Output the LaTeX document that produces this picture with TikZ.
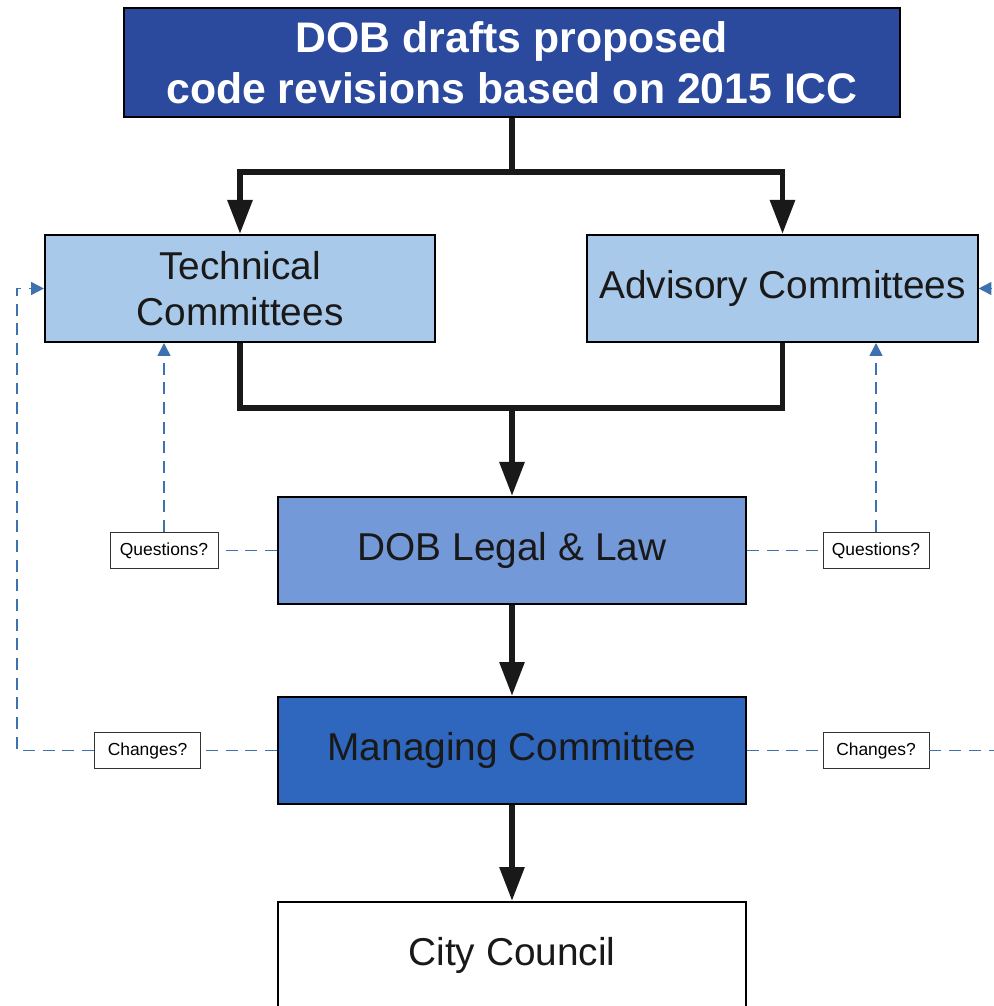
\documentclass[tikz,border=0pt]{standalone}
\usepackage{fontspec}
\setmainfont{Liberation Sans}
\usetikzlibrary{arrows.meta}
\definecolor{topblue}{HTML}{2B4A9E}
\definecolor{paleblue}{HTML}{A9C9EA}
\definecolor{midblue}{HTML}{7399D8}
\definecolor{deepblue}{HTML}{2F67BE}
\definecolor{dashblue}{HTML}{3E72AE}
\begin{document}
\begin{tikzpicture}[x=0.025cm, y=-0.025cm,
    box/.style={draw=black, line width=1.4pt, align=center, text=black!90,
        font=\fontsize{27.6}{32.5}\selectfont, minimum height=2.675cm},
    tag/.style={draw=black!80, line width=0.6pt, fill=white, inner sep=0pt,
        font=\fontsize{12.4}{14}\selectfont, minimum height=0.9cm},
    flow/.style={line width=4.2pt, black!90, -{Triangle[width=0.6cm, length=0.85cm]}},
    link/.style={line width=4.2pt, black!90},
    ask/.style={dashblue, line width=1.2pt, dash pattern=on 8.5pt off 5.5pt},
    back/.style={ask, -{Triangle[width=0.32cm, length=0.32cm]}}]
    \useasboundingbox (0, 0) rectangle (993, 1006);
    \node[box, fill=topblue, text=white, minimum width=19.4cm, minimum height=2.725cm,
        font=\fontsize{30.4}{36}\selectfont\bfseries] (top) at (512, 62.5)
        {DOB drafts proposed\\code revisions based on 2015 ICC};
    \node[box, fill=paleblue, minimum width=9.75cm] (tech) at (240, 288.5) {Technical\\Committees};
    \node[box, fill=paleblue, minimum width=9.75cm] (adv) at (782.5, 288.5) {Advisory Committees};
    \node[box, fill=midblue, minimum width=11.7cm] (legal) at (512, 550.5) {DOB Legal \& Law};
    \node[box, fill=deepblue, minimum width=11.7cm] (mgmt) at (512, 750.5) {Managing Committee};
    \node[box, fill=white, minimum width=11.7cm] (council) at (512, 955.5) {City Council};
    \node[tag, minimum width=2.7cm] (askl) at (164, 550.5) {Questions?};
    \node[tag, minimum width=2.65cm] (askr) at (876, 550.5) {Questions?};
    \node[tag, minimum width=2.65cm] (chgl) at (147.5, 750.5) {Changes?};
    \node[tag, minimum width=2.65cm] (chgr) at (876, 750.5) {Changes?};
    \coordinate (split) at (512, 172);
    \coordinate (join) at (512, 408);
    \coordinate (loopl) at (17, 750.5);
    \coordinate (loopr) at (1015, 750.5);
    \draw[link] (top.south) to (split);
    \draw[flow] (split) -| (tech.north);
    \draw[flow] (split) -| (adv.north);
    \draw[link] (tech.south) |- (join);
    \draw[link] (adv.south) |- (join);
    \draw[flow] (join) to (legal.north);
    \draw[flow] (legal.south) to (mgmt.north);
    \draw[flow] (mgmt.south) to (council.north);
    \draw[ask] (legal.west) to (askl.east);
    \draw[ask] (legal.east) to (askr.west);
    \draw[back] (askl.north) to (askl.north |- tech.south);
    \draw[back] (askr.north) to (askr.north |- adv.south);
    \draw[ask] (mgmt.west) to (chgl.east);
    \draw[ask] (mgmt.east) to (chgr.west);
    \draw[back] (chgl.west) to (loopl) |- (tech.west);
    \draw[back] (chgr.east) to (loopr) |- (adv.east);
\end{tikzpicture}
\end{document}
